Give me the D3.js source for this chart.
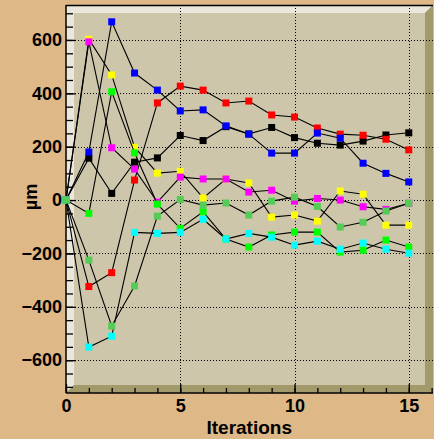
<!DOCTYPE html>
<html>
<head>
<meta charset="utf-8">
<script src="https://cdn.jsdelivr.net/npm/d3@7"></script>
<style>
    html, body { margin: 0; padding: 0; background: #deb887; }
    svg { display: block; }
    .tick text { font-family: "Liberation Sans", Arial, sans-serif; font-weight: bold; font-size: 18px; fill: #000; }
</style>
</head>
<body>
<div id="chart"></div>
<script>
'use strict';

// ------------------- DATA ------------------- //

const iterations = d3.range(0, 16);

const black      = [0, 157, 25, 142, 158, 242, 223, 275, 248, 272, 234, 213, 206, 221, 244, 252];
const red        = [0, -324, -272, 75, 364, 427, 412, 364, 371, 319, 311, 270, 247, 243, 228, 188];
const blue       = [0, 180, 668, 476, 412, 334, 338, 278, 247, 176, 176, 251, 232, 138, 100, 68];
const yellow     = [0, 603, 469, 198, 101, 108, 8, 79, 64, -64, -56, -79, 34, 22, -94, -94];
const magenta    = [0, 593, 196, 116, -8, 86, 79, 79, 30, 37, -4, 6, 0, -25, -35, -12];
const green      = [0, -50, 406, 177, -15, -106, -44, -146, -176, -131, -120, -120, -195, -188, -150, -176];
const cyan       = [0, -551, -510, -121, -125, -121, -72, -146, -125, -139, -169, -154, -184, -161, -184, -199];
const lightGreen = [0, -225, -472, -322, -60, 2, -19, -11, -56, -4, 11, -24, -101, -83, -41, -12];

// draw order matters: later series sit on top
const SERIES = [
    {values: black,      color: '#000000'},
    {values: red,        color: '#ff0000'},
    {values: blue,       color: '#0000ff'},
    {values: yellow,     color: '#ffff00'},
    {values: magenta,    color: '#ff00ff'},
    {values: green,      color: '#00ff00'},
    {values: cyan,       color: '#00ffff'},
    {values: lightGreen, color: '#55cc55'}
];

const yMajorTicks = [-600, -400, -200, 0, 200, 400, 600];
const yMinorTicks = d3.range(-700, 701, 50);
const xMajorTicks = [0, 5, 10, 15];
const xMinorTicks = d3.range(0, 17, 1);

// ------------------- DRAWING ------------------- //

const drawChart = () => {
    const width  = 434;
    const height = 439;
    const frame  = {left: 66, top: 5, right: 433, bottom: 393};
    const bevel  = 8;

    const x = d3.scaleLinear().domain([0, 16.06]).range([frame.left, frame.right]);
    const y = d3.scaleLinear().domain([-723, 731]).range([frame.bottom, frame.top]);

    const svg = d3.select('#chart')
        .append('svg')
        .attr('width', width)
        .attr('height', height);

    svg.append('rect')
        .attr('width', width).attr('height', height)
        .attr('fill', '#deb887');

    // frame with bevel
    svg.append('rect')
        .attr('x', frame.left).attr('y', frame.top)
        .attr('width', frame.right - frame.left).attr('height', frame.bottom - frame.top)
        .attr('fill', '#cdc6ab');

    const {left: l, top: t, right: r, bottom: b} = frame;
    svg.append('polygon')
        .attr('points', [[l, t], [r, t], [r - bevel, t + bevel], [l + bevel, t + bevel], [l + bevel, b - bevel], [l, b]].join(' '))
        .attr('fill', '#ebe7dc');
    svg.append('polygon')
        .attr('points', [[r, t], [r, b], [l, b], [l + bevel, b - bevel], [r - bevel, b - bevel], [r - bevel, t + bevel]].join(' '))
        .attr('fill', '#a39a6c');

    svg.append('line')
        .attr('x1', l).attr('x2', r).attr('y1', t + 0.5).attr('y2', t + 0.5)
        .attr('stroke', '#000').attr('stroke-width', 1.5);

    // grid
    const grid = svg.append('g')
        .attr('stroke', '#000')
        .attr('stroke-width', 1)
        .attr('stroke-dasharray', '1,2');

    grid.selectAll('.gx')
        .data(xMajorTicks.filter(v => v > 0))
        .enter().append('line')
        .attr('x1', d => Math.round(x(d)) + 0.5).attr('x2', d => Math.round(x(d)) + 0.5)
        .attr('y1', t).attr('y2', b);

    grid.selectAll('.gy')
        .data(yMajorTicks)
        .enter().append('line')
        .attr('x1', l).attr('x2', r)
        .attr('y1', d => Math.round(y(d)) + 0.5).attr('y2', d => Math.round(y(d)) + 0.5);

    // axes
    const yAxisMinor = d3.axisLeft(y).tickValues(yMinorTicks).tickSize(-7).tickFormat('');
    const yAxisMajor = d3.axisLeft(y).tickValues(yMajorTicks).tickSize(-10).tickPadding(4);
    const xAxisMinor = d3.axisBottom(x).tickValues(xMinorTicks).tickSize(-5).tickFormat('');
    const xAxisMajor = d3.axisBottom(x).tickValues(xMajorTicks).tickSize(-9).tickPadding(6);

    [yAxisMinor, yAxisMajor].forEach(axis => {
        svg.append('g')
            .attr('transform', `translate(${l},0)`)
            .call(axis)
            .call(g => g.select('.domain').remove())
            .call(g => g.selectAll('.tick line').attr('stroke-width', 1.3));
    });

    [xAxisMinor, xAxisMajor].forEach(axis => {
        svg.append('g')
            .attr('transform', `translate(0,${b})`)
            .call(axis)
            .call(g => g.select('.domain').remove())
            .call(g => g.selectAll('.tick line').attr('stroke-width', 1.3));
    });

    svg.append('line')
        .attr('x1', l).attr('x2', l).attr('y1', t).attr('y2', b)
        .attr('stroke', '#000').attr('stroke-width', 1.5);
    svg.append('line')
        .attr('x1', l).attr('x2', r).attr('y1', b).attr('y2', b)
        .attr('stroke', '#000').attr('stroke-width', 1.5);

    // titles
    svg.append('text')
        .attr('x', 292).attr('y', 434)
        .attr('text-anchor', 'end')
        .style('font-family', '"Liberation Sans", Arial, sans-serif')
        .style('font-weight', 'bold')
        .style('font-size', '19px')
        .text('Iterations');

    svg.append('text')
        .attr('transform', 'translate(37,197) rotate(-90)')
        .attr('text-anchor', 'middle')
        .style('font-family', '"Liberation Sans", Arial, sans-serif')
        .style('font-weight', 'bold')
        .style('font-size', '18px')
        .text('µm');

    // graphs
    const line = d3.line()
        .x((d, i) => x(iterations[i]))
        .y(d => y(d));

    const ms = 7;
    SERIES.forEach(({values, color}) => {
        const g = svg.append('g');
        g.append('path')
            .attr('d', line(values))
            .attr('fill', 'none')
            .attr('stroke', '#000')
            .attr('stroke-width', 1.1);
        g.selectAll('rect')
            .data(values)
            .enter().append('rect')
            .attr('x', (d, i) => x(iterations[i]) - ms / 2)
            .attr('y', d => y(d) - ms / 2)
            .attr('width', ms).attr('height', ms)
            .attr('fill', color);
    });
};

// ------------------- MAIN ------------------- //

document.addEventListener('DOMContentLoaded', drawChart);
</script>
</body>
</html>
